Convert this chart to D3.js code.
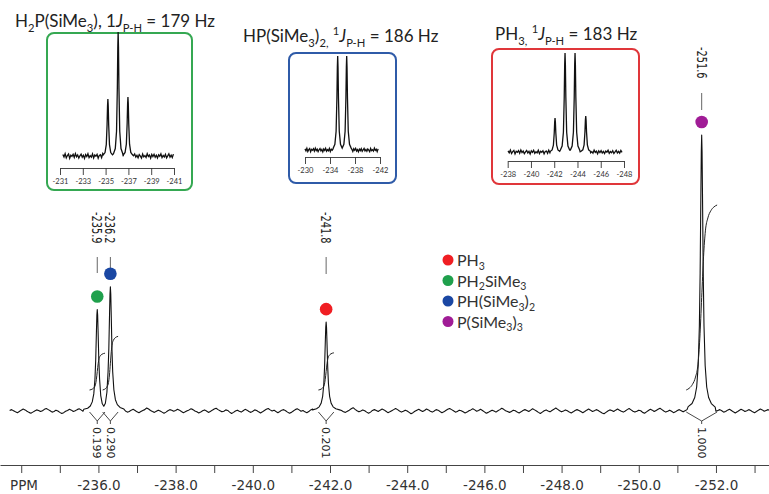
<!DOCTYPE html>
<html>
<head>
<meta charset="utf-8">
<script src="https://cdn.jsdelivr.net/npm/d3@7"></script>
<style>
  body { margin: 0; background: #fff; }
  svg { display: block; }
</style>
</head>
<body>
<svg id="chart" width="769" height="494"></svg>
<script>
// ---- main spectrum data (ppm, intensity; tallest peak = 100) ----
var axisDomain = [-233.45, -253.4];
var axisLabelTicks = [-236, -238, -240, -242, -244, -246, -248, -250, -252];
var noiseStart = -233.7, noiseStep = -0.05;
var noise = [
  0.2,0.5,0.1,-0.3,-0.6,-0.2,0.3,0.7,0.4,-0.1,-0.5,-0.8,-0.4,0.0,0.4,0.2,-0.2,0.1,0.6,0.9,
  0.5,0.1,-0.4,-0.2,0.3,0.0,-0.5,-0.9,-0.6,-0.1,0.2,0.6,0.3,-0.2,0.1,0.5,0.8,0.4,-0.1,-0.4,
  -0.7,-0.3,0.2,0.0,-0.3,0.4,0.9,0.6,0.1,-0.3,-0.1,0.3,-0.2,-0.7,-1.0,-0.5,0.0,0.3,0.7,0.4,
  0.0,-0.4,-0.2,0.3,0.6,0.2,-0.3,-0.6,-0.2,0.2,0.5,1.1,0.7,0.2,-0.2,-0.5,-0.1,0.3,0.0,-0.4,
  -0.8,-0.4,0.1,0.5,0.3,-0.1,0.2,0.6,0.3,-0.2,-0.6,-0.3,0.1,0.4,0.8,0.5,0.0,-0.3,-0.7,-0.4,
  0.1,0.4,0.0,-0.5,-0.2,0.3,0.7,1.0,0.5,0.1,-0.3,-0.1,0.4,0.2,-0.4,-0.9,-0.5,0.0,0.3,-0.1,
  -0.4,0.1,0.6,0.3,-0.2,-0.5,-0.1,0.4,0.2,-0.3,-0.7,-0.3,0.2,0.6,0.9,0.4,0.0,0.3,-0.2,-0.6,
  -0.2,0.3,0.5,0.1,-0.4,-0.8,-0.5,0.0,0.5,0.8,0.4,-0.1,0.2,-0.3,-0.6,-0.2,0.4,0.7,0.3,-0.2,
  0.1,-0.4,-0.9,-0.5,0.0,0.3,0.7,0.5,0.0,-0.3,0.1,0.6,0.2,-0.3,-0.5,-0.1,0.3,0.8,1.2,0.6,
  0.1,-0.3,0.0,0.4,0.1,-0.4,-0.8,-0.4,0.2,0.5,0.2,-0.2,0.3,0.7,0.4,-0.1,-0.6,-0.3,0.1,0.5,
  0.9,0.5,0.0,-0.4,-0.1,0.3,0.0,-0.5,-1.0,-0.6,-0.1,0.3,0.6,0.2,-0.2,0.2,0.7,0.4,-0.1,-0.4,
  0.0,0.5,0.3,-0.2,-0.6,-0.3,0.2,0.6,0.9,0.5,0.1,-0.4,-0.2,0.3,0.1,-0.3,-0.7,-0.4,0.1,0.4,
  0.8,0.4,-0.1,0.2,0.6,0.2,-0.3,-0.8,-0.5,-0.1,0.3,0.0,-0.4,0.1,0.5,1.0,0.6,0.1,-0.2,-0.5,
  -0.2,0.3,0.1,-0.4,-0.7,-0.3,0.2,0.5,0.2,-0.2,0.3,0.8,0.4,0.0,-0.5,-0.9,-0.4,0.1,0.4,0.0,
  -0.3,0.2,0.6,1.1,0.6,0.1,-0.3,0.0,0.4,0.1,-0.4,-0.7,-0.3,0.2,0.5,0.2,-0.2,-0.6,-0.2,0.3,
  0.7,0.3,-0.2,0.1,0.5,0.2,-0.3,-0.7,-1.0,-0.5,0.0,0.4,0.2,-0.2,0.3,0.7,0.3,-0.1,-0.4,0.0,
  0.5,0.9,0.4,-0.1,-0.4,-0.1,0.3,0.1,-0.5,-0.8,-0.3,0.2,0.6,0.3,-0.2,0.2,0.6,1.0,0.5,0.0,
  -0.4,-0.1,0.3,-0.1,-0.6,-0.3,0.2,0.5,0.1,-0.3,0.1,0.5,0.8,0.3,-0.2,-0.6,-0.2,0.3,0.0,-0.5,
  -0.9,-0.4,0.1,0.4,0.7,0.3,-0.1,0.2,0.5,0.1,-0.4,-0.2,0.3,0.6,0.2,-0.3,-0.7,-0.3,0.2,0.6,
  0.3,-0.2,0.1,0.5,0.2,-0.3,-0.6,-0.2,0.3,0.7,0.4,-0.1,0.2,0.5,0.1,-0.4,-0.2,0.3,0.1,-0.3
];
var peakGreenBlue = [
  [-235.62,0.6],[-235.72,1.0],[-235.79,1.8],[-235.84,3.3],[-235.88,6.2],[-235.91,11.5],
  [-235.93,18.6],[-235.95,29.6],[-235.96,34.8],[-235.97,36.8],[-235.98,34.8],[-235.99,29.6],
  [-236.01,18.6],[-236.03,11.6],[-236.06,5.6],[-236.10,2.6],[-236.14,1.7],[-236.18,2.8],
  [-236.22,6.8],[-236.25,14.2],[-236.27,22.8],[-236.29,36.2],[-236.30,42.4],[-236.31,45.0],
  [-236.32,42.4],[-236.33,36.1],[-236.35,22.7],[-236.37,14.1],[-236.40,7.7],[-236.44,4.1],
  [-236.49,2.3],[-236.56,1.3],[-236.66,0.7]
];
var peakRed = [
  [-241.55,0.4],[-241.65,0.8],[-241.72,1.5],[-241.77,2.8],[-241.81,5.3],[-241.84,9.9],
  [-241.86,16.1],[-241.88,25.8],[-241.89,30.3],[-241.90,32.2],[-241.91,30.3],[-241.92,25.8],
  [-241.94,16.1],[-241.96,9.9],[-241.99,5.3],[-242.03,2.8],[-242.08,1.5],[-242.15,0.8],[-242.25,0.4]
];
var peakPurple = [
  [-251.28,1.6],[-251.38,2.7],[-251.45,4.9],[-251.50,8.7],[-251.54,16.5],[-251.57,30.8],
  [-251.59,50],[-251.61,80],[-251.62,94],[-251.63,100],[-251.64,94],[-251.65,80],
  [-251.67,50],[-251.69,30.8],[-251.72,16.5],[-251.76,8.7],[-251.81,4.9],[-251.88,2.7],[-251.98,1.4]
];
var peakPpm = [-235.97, -236.31, -241.90, -251.63];
var peakHeights = [36.8, 45.0, 32.2, 100];
var peakLabels = ["-235.9", "-236.2", "-241.8", "-251.6"];
var peakColors = ["#1fa04c", "#1a47a3", "#f01e23", "#a01c96"];

var integralFrom = [-235.77, -236.11, -241.70, -251.23];
var integralTo = [-236.17, -236.51, -242.10, -252.03];
var integralValues = [0.199, 0.290, 0.201, 1.000];
var integralShape = [[0,0],[0.1,0.01],[0.2,0.03],[0.3,0.07],[0.38,0.14],[0.44,0.28],[0.5,0.5],
  [0.56,0.72],[0.62,0.86],[0.7,0.93],[0.8,0.97],[0.9,0.99],[1,1]];

// ---- legend ----
var legendNames = [
  [["PH"], ["3", "sub"]],
  [["PH"], ["2", "sub"], ["SiMe"], ["3", "sub"]],
  [["PH(SiMe"], ["3", "sub"], [")"], ["2", "sub"]],
  [["P(SiMe"], ["3", "sub"], [")"], ["3", "sub"]]
];
var legendColors = ["#f01e23", "#1fa04c", "#1a47a3", "#a01c96"];

// ---- insets ----
var insetTitles = [
  [["H"], ["2", "sub"], ["P(SiMe"], ["3", "sub"], ["), 1"], ["J", "i"], ["P-H", "sub"], [" = 179 Hz"]],
  [["HP(SiMe"], ["3", "sub"], [")"], ["2,", "sub"], [" "], ["1", "sup"], ["J", "i"], ["P-H", "sub"], [" = 186 Hz"]],
  [["PH"], ["3,", "sub"], [" "], ["1", "sup"], ["J", "i"], ["P-H", "sub"], [" = 183 Hz"]]
];
var insetColors = ["#35a852", "#2f5ba8", "#e0363a"];
var insetAxisDomains = [[-231, -241], [-230, -242], [-238, -248]];
var insetMinorTicks = [
  [-231,-232,-233,-234,-235,-236,-237,-238,-239,-240,-241],
  [-230,-232,-234,-236,-238,-240,-242],
  [-238,-239,-240,-241,-242,-243,-244,-245,-246,-247,-248]
];
var insetLabelTicks = [
  [-231, -233, -235, -237, -239, -241],
  [-230, -234, -238, -242],
  [-238, -240, -242, -244, -246, -248]
];
var insetPeakPpm = [[-235.2, -236.1, -236.96], [-235.23, -236.67], [-242.07, -242.93, -243.79, -244.71]];
var insetPeakHeights = [[46, 100, 47.6], [100, 100], [34.3, 100, 100, 36.4]];
var insetPeakWidth = [1, 1.8, 1];
var insetNoiseStart = [-231.25, -230.0, -238.03];
var insetNoiseStep = [-0.1, -0.15, -0.1];
var insetNoiseCount = [98, 79, 99];
var insetNoise = [
  1.2,-0.8,1.9,-1.5,0.4,1.6,-1.9,0.7,-0.3,1.4,-1.2,2.0,-0.6,0.9,-1.7,0.2,1.5,-1.0,0.6,-2.0,
  1.1,-0.4,1.8,-1.3,0.3,-0.9,1.7,-1.6,0.8,-0.2,1.3,-1.8,0.5,1.0,-1.4,1.9,-0.7,0.1,-1.1,1.6,
  -0.5,1.2,-1.9,0.6,1.4,-0.8,0.3,-1.5,1.0,-0.3,0.7,-1.6,1.3,-0.2,1.8,-1.1,0.4,-1.9,0.9,-0.6,
  1.5,-1.3,0.2,1.7,-0.9,0.5,-1.4,1.1,-0.1,-1.7,1.6,-0.7,0.3,-1.2,1.9,-0.4,0.8,-1.8,1.2,-0.5,
  1.4,-1.0,0.6,-1.6,1.0,-0.2,1.7,-1.3,0.4,-0.8,1.3,-1.5,0.1,1.8,-0.9,0.7,-1.2,1.5,-0.4,1.0
];
var insetPeakShape = [[-0.4,0.02],[-0.25,0.06],[-0.14,0.2],[-0.07,0.55],[-0.03,0.88],[0,1],
  [0.03,0.88],[0.07,0.55],[0.14,0.2],[0.25,0.06],[0.4,0.02]];

// ---------------------------------------------------------------
var svg = d3.select("#chart");
var titleFont = "Lato, 'Noto Sans', sans-serif";
var axisFont = "'DejaVu Sans', Verdana, sans-serif";

function richText(sel, parts, size, subShift) {
  var shift = 0;
  parts.forEach(function(p) {
    var kind = p[1] || "n";
    var target = kind === "sub" ? subShift * size : kind === "sup" ? -0.4 * size : 0;
    sel.append("tspan")
      .attr("dy", target - shift)
      .attr("font-size", (kind === "sub" || kind === "sup") ? size * 0.66 : size)
      .attr("font-style", kind === "i" ? "italic" : null)
      .text(p[0]);
    shift = target;
  });
}

// main scales
var x = d3.scaleLinear().domain(axisDomain).range([0, 770]);
var y = d3.scaleLinear().domain([0, 100]).range([411, 135]);
var yInt = d3.scaleLinear().domain([0, 1]).range([390, 205]);

// assemble spectrum: noise outside peak windows + typed peak points
var peakSets = [peakGreenBlue, peakRed, peakPurple];
var spectrum = noise.map(function(v, i) { return [noiseStart + i * noiseStep, v]; })
  .filter(function(p) {
    return !peakSets.some(function(s) { return p[0] <= s[0][0] && p[0] >= s[s.length - 1][0]; });
  });
peakSets.forEach(function(s) { spectrum = spectrum.concat(s); });
spectrum.sort(function(a, b) { return b[0] - a[0]; });

var line = d3.line()
  .x(function(d) { return x(d[0]); })
  .y(function(d) { return y(d[1]); });

svg.append("path")
  .datum(spectrum)
  .attr("d", line)
  .attr("fill", "none")
  .attr("stroke", "#111")
  .attr("stroke-width", 1.1)
  .attr("stroke-linejoin", "round");

// integral curves
var intLine = d3.line().curve(d3.curveMonotoneX);
integralValues.forEach(function(v, i) {
  var x0 = x(integralFrom[i]), x1 = x(integralTo[i]);
  var pts = integralShape.map(function(s) {
    return [x0 + (x1 - x0) * s[0], yInt(v * s[1])];
  });
  svg.append("path")
    .attr("d", intLine(pts))
    .attr("fill", "none")
    .attr("stroke", "#222")
    .attr("stroke-width", 1);

  // bracket under baseline
  var xm = (x0 + x1) / 2, yb = y(0);
  svg.append("path")
    .attr("d", "M" + x0 + "," + (yb + 1) + "L" + xm + "," + (yb + 10) + "L" + x1 + "," + (yb + 1) +
      "M" + xm + "," + (yb + 10) + "L" + xm + "," + (yb + 13))
    .attr("fill", "none")
    .attr("stroke", "#333")
    .attr("stroke-width", 0.9);

  svg.append("text")
    .attr("transform", "translate(" + xm + "," + (yb + 16) + ") rotate(90)")
    .attr("dy", "0.35em")
    .attr("font-family", axisFont)
    .attr("font-size", 11)
    .attr("fill", "#222")
    .text(v.toFixed(3));
});

// peak labels, tick lines and markers
var labelTop = [212, 212, 212, 47];
var lineTop = [257, 257, 257, 93];
var lineBottom = [273, 270, 274, 110];
peakPpm.forEach(function(p, i) {
  var px = x(p);
  var my = y(peakHeights[i]) - 13;
  svg.append("line")
    .attr("x1", px).attr("x2", px)
    .attr("y1", lineTop[i]).attr("y2", lineBottom[i])
    .attr("stroke", "#666").attr("stroke-width", 1);
  svg.append("text")
    .attr("transform", "translate(" + px + "," + labelTop[i] + ") rotate(90) scale(0.7,1)")
    .attr("dy", "0.35em")
    .attr("font-family", axisFont)
    .attr("font-size", 14)
    .attr("fill", "#222")
    .text(peakLabels[i]);
  svg.append("circle")
    .attr("cx", px).attr("cy", my).attr("r", 6.3)
    .attr("fill", peakColors[i]);
});

// x axis
var gAxis = svg.append("g").attr("transform", "translate(0,465)");
gAxis.call(d3.axisBottom(x)
  .tickValues(d3.range(-233.5, -253.5, -0.5))
  .tickSize(4).tickSizeOuter(0).tickFormat(""));
gAxis.call(d3.axisBottom(x)
  .tickValues(d3.range(-234, -254, -1))
  .tickSize(8).tickSizeOuter(0).tickPadding(7)
  .tickFormat(function(d) { return axisLabelTicks.indexOf(d) >= 0 ? d.toFixed(1) : ""; }));
gAxis.selectAll("path, line").attr("stroke", "#444");
gAxis.selectAll("text")
  .attr("font-family", axisFont)
  .attr("font-size", 13.5)
  .attr("fill", "#333");
svg.append("text")
  .attr("x", 10).attr("y", 489.5)
  .attr("font-family", axisFont)
  .attr("font-size", 13.5)
  .attr("fill", "#333")
  .text("PPM");

// legend
legendNames.forEach(function(parts, i) {
  var ly = 260 + i * 20.5;
  svg.append("circle").attr("cx", 448).attr("cy", ly).attr("r", 5.5).attr("fill", legendColors[i]);
  var t = svg.append("text")
    .attr("x", 457).attr("y", ly + 6)
    .attr("font-family", titleFont)
    .attr("fill", "#333");
  richText(t, parts, 16, 0.24);
});

// insets
var insetBoxes = [[47, 33, 145, 157], [289, 53, 107, 130], [492, 49, 147, 135]];
var insetTitlePos = [[15, 27], [243, 42], [495, 40]];
var insetXRange = [[60, 174], [305, 380], [507.7, 624]];
var insetYRange = [[156, 32], [150, 56], [152, 53]];
var insetAxisY = [168, 157, 161];

insetTitles.forEach(function(parts, k) {
  var b = insetBoxes[k];
  svg.append("rect")
    .attr("x", b[0]).attr("y", b[1]).attr("width", b[2]).attr("height", b[3])
    .attr("rx", 7)
    .attr("fill", "#fff")
    .attr("stroke", insetColors[k])
    .attr("stroke-width", 2);

  var t = svg.append("text")
    .attr("x", insetTitlePos[k][0]).attr("y", insetTitlePos[k][1])
    .attr("font-family", titleFont)
    .attr("fill", "#222");
  richText(t, parts, 17, 0.32);

  var ix = d3.scaleLinear().domain(insetAxisDomains[k]).range(insetXRange[k]);
  var iy = d3.scaleLinear().domain([0, 100]).range(insetYRange[k]);

  // peaks from typed shape, scaled by typed heights
  var peakPts = [];
  var windows = [];
  insetPeakPpm[k].forEach(function(c, j) {
    var w = insetPeakWidth[k];
    insetPeakShape.forEach(function(s) {
      peakPts.push([c + s[0] * w, insetPeakHeights[k][j] * s[1]]);
    });
    windows.push([c - 0.4 * w, c + 0.4 * w]);
  });
  var pts = insetNoise.slice(0, insetNoiseCount[k]).map(function(v, i) {
    return [insetNoiseStart[k] + i * insetNoiseStep[k], v];
  }).filter(function(p) {
    return !windows.some(function(wd) { return p[0] >= wd[0] && p[0] <= wd[1]; });
  }).concat(peakPts);
  pts.sort(function(a, b) { return b[0] - a[0]; });

  svg.append("path")
    .datum(pts)
    .attr("d", d3.line().x(function(d) { return ix(d[0]); }).y(function(d) { return iy(d[1]); }))
    .attr("fill", "none")
    .attr("stroke", "#111")
    .attr("stroke-width", 1.3);

  var ga = svg.append("g").attr("transform", "translate(0," + insetAxisY[k] + ")");
  ga.call(d3.axisBottom(ix).tickValues(insetMinorTicks[k]).tickSize(3).tickSizeOuter(0).tickFormat(""));
  ga.call(d3.axisBottom(ix).tickValues(insetLabelTicks[k]).tickSize(7).tickSizeOuter(0).tickPadding(4)
    .tickFormat(function(d) { return d; }));
  ga.selectAll("path, line").attr("stroke", "#333").attr("stroke-width", 0.9);
  ga.selectAll("text")
    .attr("font-family", titleFont)
    .attr("font-size", 7.5)
    .attr("fill", "#333");
});
</script>
</body>
</html>
